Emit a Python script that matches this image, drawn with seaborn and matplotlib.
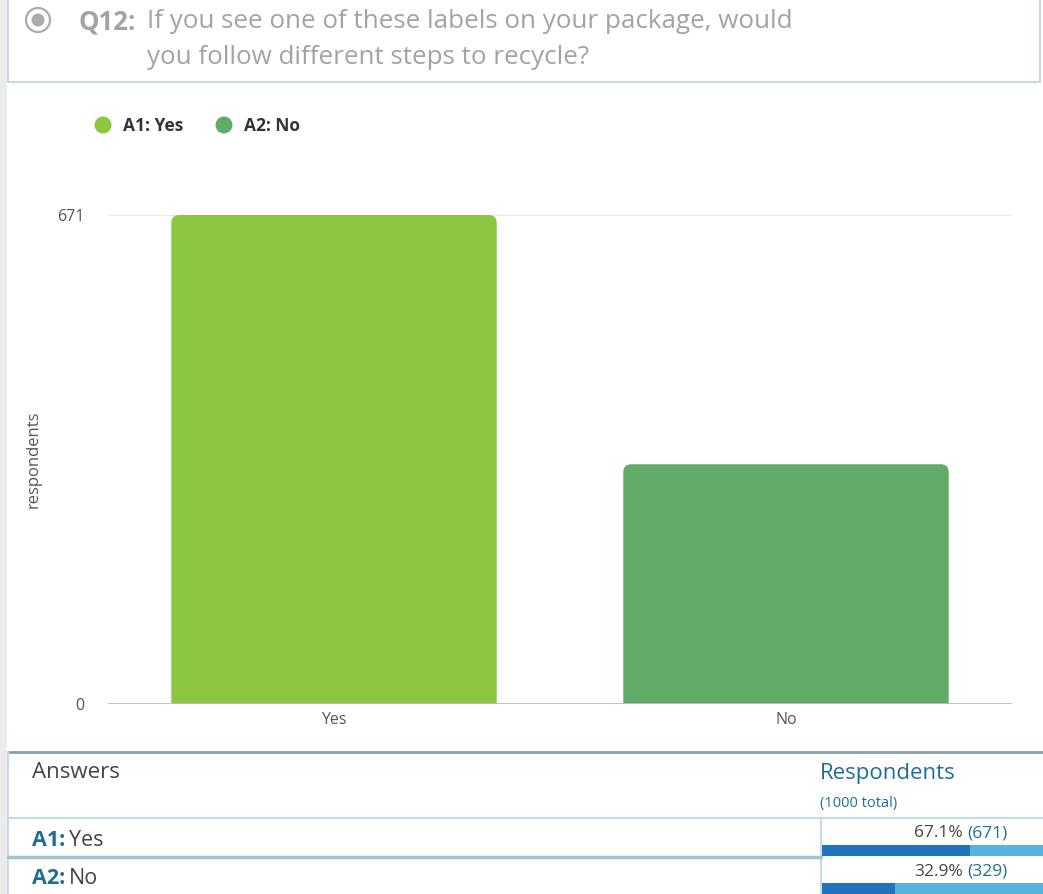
import matplotlib
matplotlib.use("Agg")
import matplotlib.pyplot as plt
import pandas as pd
import seaborn as sns
from matplotlib.patches import Circle, FancyBboxPatch, Rectangle

# ---- data -------------------------------------------------------------
answers = ["Yes", "No"]
codes = ["A1", "A2"]
respondents = [671, 329]
total_respondents = 1000
bar_colors = ["#8dc63f", "#62ab68"]
question_no = "Q12:"
question_lines = ["If you see one of these labels on your package, would",
                  "you follow different steps to recycle?"]

W, H = 1043, 894
TEAL = "#1f6e92"

sns.set_theme(style="white")
plt.rcParams["font.family"] = ["Open Sans", "DejaVu Sans"]

fig = plt.figure(figsize=(W / 100, H / 100), dpi=100)
fig.patch.set_facecolor("white")

# background axes in pixel units (y down) for the page furniture
bg = fig.add_axes([0, 0, 1, 1], zorder=0)
bg.set_xlim(0, W)
bg.set_ylim(H, 0)
bg.axis("off")
renderer = fig.canvas.get_renderer()


def to_px(bbox):
    (x0, y0), (x1, y1) = bg.transData.inverted().transform(
        [[bbox.x0, bbox.y0], [bbox.x1, bbox.y1]])
    return x0, x1


def two_part(x, y, first, second, c1, c2, size, weight1="normal", align="left"):
    if align == "left":
        t1 = bg.text(x, y, first, color=c1, fontsize=size, fontweight=weight1,
                     ha="left", va="center")
        _, x1 = to_px(t1.get_window_extent(renderer))
        bg.text(x1 + 4, y, second, color=c2, fontsize=size, ha="left", va="center")
    else:
        t2 = bg.text(x, y, second, color=c2, fontsize=size, ha="right", va="center")
        x0, _ = to_px(t2.get_window_extent(renderer))
        bg.text(x0 - 4, y, first, color=c1, fontsize=size, fontweight=weight1,
                ha="right", va="center")


# left grey strip and question box
bg.add_patch(Rectangle((0, 0), 7, H, facecolor="#ececec", edgecolor="none"))
bg.add_patch(Rectangle((8, -10), 1032, 92, fill=False, edgecolor="#c9d9e1", lw=1.5))
bg.add_patch(Circle((38, 20), 12, fill=False, edgecolor="#ababab", lw=1.6))
bg.add_patch(Circle((38, 20), 6.5, facecolor="#ababab", edgecolor="none"))
bg.text(78, 22, question_no, fontsize=18.5, fontweight="bold", color="#a3a3a3",
        ha="left", va="center")
for i, line in enumerate(question_lines):
    bg.text(147, 22 + i * 35, line, fontsize=18.7, color="#a3a3a3",
            ha="left", va="center")

# legend
for i, (code, ans, col) in enumerate(zip(codes, answers, bar_colors)):
    x0 = 103 + i * 121
    bg.add_patch(Circle((x0, 125), 8.5, facecolor=col, edgecolor="none"))
    bg.text(x0 + 20, 126, f"{code}: {ans}", fontsize=12.5, fontweight="bold",
            color="#333333", ha="left", va="center")

# ---- chart ------------------------------------------------------------
ax = fig.add_axes([108 / W, 1 - 704 / H, 904 / W, 489 / H], zorder=1)
ax.patch.set_alpha(0)
df = pd.DataFrame({"answer": answers, "respondents": respondents})
sns.barplot(data=df, x="answer", y="respondents", hue="answer",
            palette=bar_colors, saturation=1, width=0.72, legend=False, ax=ax)
ax.set_xlim(-0.5, 1.5)
ax.set_ylim(0, max(respondents))

# rounded tops
px_x = ax.transData.transform((1, 0))[0] - ax.transData.transform((0, 0))[0]
px_y = ax.transData.transform((0, 1))[1] - ax.transData.transform((0, 0))[1]
radius_px = 8
rx = radius_px / px_x
ry = radius_px / px_y
for p in list(ax.patches):
    x, w, h, fc = p.get_x(), p.get_width(), p.get_height(), p.get_facecolor()
    p.remove()
    ax.add_patch(FancyBboxPatch((x, -ry), w, h + ry,
                                boxstyle=f"round,pad=0,rounding_size={rx}",
                                mutation_aspect=ry / rx, facecolor=fc,
                                edgecolor="none", zorder=2))

ax.axhline(max(respondents), color="#e6e6e6", lw=1.2, zorder=1)
ax.axhline(0, color="#bdbdbd", lw=1.3, zorder=3)
ax.set_yticks([0, max(respondents)])
ax.tick_params(axis="y", length=0, pad=17, labelsize=11.5, labelcolor="#555555")
ax.tick_params(axis="x", length=0, pad=6, labelsize=11.5, labelcolor="#555555")
ax.set_xlabel("")
ax.set_ylabel("respondents", fontsize=12, color="#555555")
ax.yaxis.set_label_coords(-0.073, 0.5)
sns.despine(ax=ax, left=True, bottom=True)

# ---- table ------------------------------------------------------------
bg.plot([8, W], [752, 752], color="#7fa2b4", lw=2)
bg.plot([8, 8], [752, H], color="#c8dde6", lw=1.5)
bg.plot([8, W], [818, 818], color="#c3dce6", lw=1.5)
bg.plot([821, 821], [818, H], color="#c3dce6", lw=1.5)
bg.plot([8, 821], [857, 857], color="#a3c2cf", lw=2.5)

bg.text(32, 773, "Answers", fontsize=16, color="#444444", ha="left", va="center")
bg.text(820, 773, "Respondents", fontsize=16, color=TEAL, ha="left", va="center")
bg.text(820, 803, f"({total_respondents} total)", fontsize=10.5, color=TEAL,
        ha="left", va="center")

bar_w = 221
for i, (code, ans, n) in enumerate(zip(codes, answers, respondents)):
    share = n / total_respondents
    y_row = 840 + i * 38
    two_part(32, y_row, f"{code}:", ans, TEAL, "#444444", 15.5, weight1="bold")
    two_part(1007, 833 + i * 39, f"{share * 100:.1f}%", f"({n})", "#444444", TEAL,
             12.5, align="right")
    y_bar = 845 + i * 38
    bg.add_patch(Rectangle((822, y_bar), bar_w * share, 11, facecolor="#1f74bb",
                           edgecolor="none"))
    bg.add_patch(Rectangle((822 + bar_w * share, y_bar), bar_w * (1 - share), 11,
                           facecolor="#56b3e0", edgecolor="none"))

fig.savefig("out.png", dpi=100)
